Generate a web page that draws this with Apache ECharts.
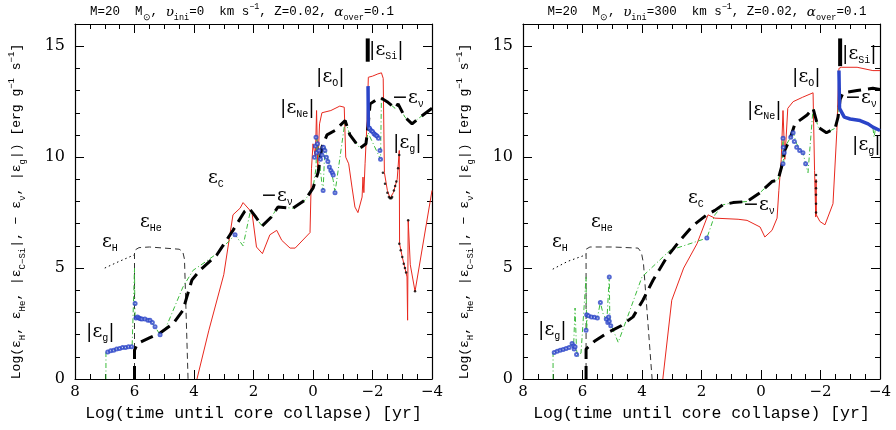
<!DOCTYPE html>
<html><head><meta charset="utf-8">
<script src="https://cdn.jsdelivr.net/npm/echarts@6/dist/echarts.min.js"></script>
<style>html,body{margin:0;padding:0;background:#fff}#c{width:896px;height:430px}</style>
</head><body><div id="c"></div>
<script>
// ---------- DATA (x = log time until collapse [yr], y = log energy rate) ----------
var xTicks = [8, 6, 4, 2, 0, -2, -4];
var yTicks = [0, 5, 10, 15];

// Left panel: v_ini = 0
var L_H = [[7.0,5.0],[6.6,5.25],[6.0,5.6]];
var L_He = [[6.0,0],[6.0,5.8],[5.85,5.92],[5.5,5.95],[4.5,5.85],[4.38,5.75],[4.32,5.4],[4.2,0]];
var L_nu = [[6.0,0],[6.0,1.3],[5.9,1.6],[5.5,1.85],[5.14,2.07],[4.7,2.5],[4.37,3.1],[4.24,3.7],[4.07,4.46],[3.8,4.9],[3.23,5.6],[2.69,6.7],[2.3,7.55],[2.15,7.7],[1.95,7.35],[1.71,6.9],[1.4,7.3],[1.18,7.75],[0.67,7.7],[0.27,8.06],[0.0,8.6],[-0.17,9.3],[-0.3,10.45],[-0.47,11.0],[-0.74,11.2],[-1.08,11.65],[-1.24,11.0],[-1.58,10.4],[-1.78,10.6],[-1.85,11.4],[-1.92,12.4],[-2.25,12.7],[-2.49,12.5],[-2.76,12.2],[-2.86,12.4],[-3.09,11.8],[-3.33,11.5],[-3.6,11.8],[-4.0,12.2]];
var L_CSi = [[3.9,0],[3.5,2.2],[3.0,4.7],[2.69,7.4],[2.45,7.7],[2.35,7.95],[2.05,7.5],[1.9,5.95],[1.7,5.65],[1.45,6.5],[1.22,6.7],[1.05,6.25],[0.77,5.9],[0.6,5.9],[0.1,6.6],[0.05,9.5],[0.0,10.6],[-0.08,10.0],[-0.12,12.1],[-0.16,9.5],[-0.22,11.5],[-0.3,12.0],[-0.6,12.1],[-0.9,12.3],[-1.05,12.25],[-1.1,10.0],[-1.2,9.7],[-1.31,8.65],[-1.41,7.75],[-1.51,7.5],[-1.65,8.2],[-1.68,9.1],[-1.71,8.4],[-1.75,9.7],[-1.82,11.7],[-1.86,13.6],[-2.0,13.65],[-2.18,13.75],[-2.3,13.8],[-2.36,13.55],[-2.4,9.3],[-2.5,8.5],[-2.59,8.15],[-2.7,8.4],[-2.83,9.0],[-2.9,10.3],[-2.91,6.1],[-3.0,5.5],[-3.09,5.0],[-3.16,4.6],[-3.18,2.65],[-3.2,7.15],[-3.27,5.15],[-3.32,5.2],[-3.43,3.95],[-4.0,8.5]];
var L_g = [[6.96,0],[6.96,1.2],[6.7,1.3],[6.4,1.4],[6.08,1.45],[6.02,1.5],[6.0,5.0],[5.99,3.4],[5.98,2.75],[5.7,2.7],[5.48,2.65],[5.31,2.35],[5.14,2.0],[4.95,2.3],[4.37,4.15],[4.03,4.9],[3.7,5.2],[3.23,5.65],[2.62,6.5],[2.35,6.0],[2.1,7.6],[1.95,7.3],[1.71,6.9],[1.4,7.3],[1.18,7.75],[0.67,7.7],[0.27,8.06],[0.0,8.6],[-0.1,9.5],[-0.13,10.9],[-0.2,10.0],[-0.3,8.8],[-0.34,8.5],[-0.4,10.45],[-0.5,9.9],[-0.6,9.4],[-0.68,8.95],[-0.74,8.4],[-1.08,11.65],[-1.24,11.0],[-1.58,10.4],[-1.78,10.6],[-1.85,11.1],[-2.27,9.9],[-2.3,12.65],[-2.49,12.5],[-2.76,12.2],[-2.86,12.4],[-3.09,11.8],[-3.33,11.5],[-3.6,11.8],[-4.0,12.2]];
var L_gPts = [[6.9,1.22],[6.8,1.27],[6.7,1.3],[6.6,1.35],[6.5,1.38],[6.4,1.42],[6.3,1.42],[6.2,1.45],[6.1,1.45],[5.98,3.4],[5.95,2.75],[5.9,2.8],[5.85,2.75],[5.8,2.72],[5.75,2.7],[5.65,2.7],[5.55,2.65],[5.48,2.65],[5.4,2.55],[5.31,2.35],[5.14,2.0],[2.62,6.5],[-0.05,10.0],[-0.08,10.5],[-0.1,10.9],[-0.12,10.2],[-0.15,10.6],[-0.2,10.3],[-0.25,9.9],[-0.3,10.1],[-0.35,10.45],[-0.4,10.3],[-0.45,10.0],[-0.5,9.8],[-0.55,9.55],[-0.6,9.4],[-0.65,9.3],[-0.68,9.2],[-0.34,8.5],[-0.74,8.4],[-1.9,11.3],[-1.95,11.2],[-2.0,11.15],[-2.05,11.05],[-2.1,11.0],[-2.15,10.95],[-2.2,10.85],[-2.25,10.3],[-2.27,9.9]];
var L_gSi = [[-1.85,13.2],[-1.86,11.4],[-1.95,11.2],[-2.2,10.9]];
var L_siPeak = [[-1.84,14.3],[-1.84,15.35]];
var L_dots = [[-2.35,9.3],[-2.42,8.8],[-2.5,8.4],[-2.55,8.2],[-2.59,8.15],[-2.63,8.15],[-2.66,8.2],[-2.72,8.5],[-2.76,8.7],[-2.8,8.9],[-2.86,9.5],[-2.9,10.1],[-2.9,6.1],[-2.95,5.8],[-3.0,5.5],[-3.05,5.2],[-3.09,5.0],[-3.13,4.8],[-3.2,7.15],[-3.43,3.95]];

// Right panel: v_ini = 300 km/s
var R_H = [[7.0,4.95],[6.5,5.3],[5.88,5.6]];
var R_He = [[5.88,0],[5.88,5.85],[5.75,5.95],[5.0,5.95],[4.13,5.9],[4.02,5.7],[3.95,5.2],[3.66,0]];
var R_nu = [[5.88,0],[5.88,1.35],[5.6,1.7],[5.18,2.07],[4.7,2.4],[4.3,2.8],[3.97,3.55],[3.63,4.45],[3.16,5.5],[2.72,6.25],[2.3,6.9],[1.82,7.4],[1.55,7.6],[1.28,7.85],[0.94,7.95],[0.47,8.0],[0.03,8.4],[-0.37,8.9],[-0.57,8.96],[-0.7,9.6],[-0.8,10.3],[-0.97,10.8],[-1.14,11.5],[-1.55,11.9],[-1.75,12.2],[-1.92,11.35],[-2.2,11.1],[-2.49,11.3],[-2.59,11.8],[-2.66,12.6],[-2.76,12.9],[-3.23,13.0],[-3.76,13.1],[-4.0,13.05]];
var R_CSi = [[3.3,0],[3.0,3.55],[2.6,5.0],[2.15,6.1],[1.78,7.4],[1.55,7.25],[0.77,7.2],[0.47,7.15],[0.03,6.85],[-0.13,6.4],[-0.37,6.7],[-0.54,7.25],[-0.6,8.5],[-0.68,9.9],[-0.74,12.1],[-0.8,9.9],[-0.85,11.0],[-0.9,12.2],[-1.08,12.5],[-1.4,12.7],[-1.75,12.9],[-1.8,9.4],[-1.84,7.3],[-1.85,9.0],[-1.86,7.4],[-1.98,7.1],[-2.15,6.95],[-2.42,7.9],[-2.55,11.2],[-2.62,14.0],[-2.7,14.05],[-3.23,14.05],[-3.76,13.9],[-4.0,13.9]];
var R_g = [[6.99,0],[6.99,1.17],[6.7,1.3],[6.5,1.4],[6.35,1.6],[6.3,1.45],[6.25,3.2],[6.2,1.3],[6.15,1.0],[6.05,1.17],[5.88,4.6],[5.86,2.2],[5.84,2.9],[5.6,2.8],[5.5,2.75],[5.4,3.45],[5.3,2.9],[5.18,2.65],[5.1,4.6],[5.08,2.57],[4.8,1.65],[4.5,2.75],[4.0,4.6],[3.06,5.8],[1.82,6.35],[1.55,7.4],[1.28,7.85],[0.94,7.95],[0.47,8.0],[0.03,8.4],[-0.37,8.9],[-0.57,8.96],[-0.7,9.5],[-0.74,10.85],[-0.76,9.7],[-0.8,10.45],[-1.0,10.9],[-1.08,11.1],[-1.2,10.6],[-1.41,10.2],[-1.5,9.7],[-1.58,9.3],[-1.75,12.2],[-1.92,11.35],[-2.2,11.1],[-2.49,11.3],[-2.59,11.8],[-2.62,13.9],[-2.64,12.2],[-2.8,11.8],[-3.33,11.65],[-3.76,11.35],[-3.8,10.9],[-3.85,11.3],[-4.0,11.2]];
var R_gPts = [[6.95,1.2],[6.85,1.25],[6.75,1.3],[6.65,1.33],[6.55,1.38],[6.45,1.42],[6.35,1.6],[6.3,1.5],[6.28,1.35],[6.25,1.45],[6.2,1.1],[5.88,2.2],[5.86,2.9],[5.8,2.85],[5.7,2.8],[5.6,2.78],[5.5,2.75],[5.4,3.45],[5.2,2.7],[5.15,2.55],[5.12,2.8],[5.1,4.6],[5.1,2.6],[5.05,2.4],[1.82,6.35],[-0.74,10.85],[-0.75,10.45],[-0.74,9.7],[-0.78,10.2],[-1.0,10.9],[-1.08,11.1],[-1.12,10.7],[-1.2,10.45],[-1.3,10.3],[-1.41,10.2],[-1.5,9.7]];
var R_gSi = [[-2.62,13.9],[-2.64,12.2],[-2.8,11.8],[-3.0,11.72],[-3.33,11.65],[-3.6,11.5],[-3.76,11.35],[-4.0,11.2]];
var R_siPeak = [[-2.66,14.1],[-2.66,15.35]];
var R_dots = [[-1.85,9.2],[-1.85,8.9],[-1.85,8.6],[-1.85,8.3],[-1.85,7.9],[-1.85,7.5]];

// ---------- STYLE ----------
var FONT = 'Liberation Mono';
var NUMFONT = 'DejaVu Serif';
var RED = '#e8281e', GREEN = '#3cbb3c', BLUE = '#2a44c8';
function st(o) { return Object.assign({color: '#000', fontFamily: FONT}, o); }
var rich = {
  n: st({fontSize: 13, lineHeight: 20}),
  x: st({fontSize: 16.5, lineHeight: 22}),
  b: st({fontFamily: NUMFONT, fontSize: 19, lineHeight: 22}),
  sub: st({fontSize: 10, lineHeight: 9, verticalAlign: 'bottom'}),
  ysub: st({fontSize: 9, lineHeight: 8, verticalAlign: 'bottom'}),
  sup: st({fontSize: 9, lineHeight: 8, verticalAlign: 'top'}),
  t: st({fontSize: 12.5, lineHeight: 20}),
  ts: st({fontSize: 8.5, lineHeight: 9, verticalAlign: 'bottom'}),
  tp: st({fontSize: 8.5, lineHeight: 9, verticalAlign: 'top'}),
  ti: st({fontFamily: NUMFONT, fontSize: 13.5, lineHeight: 20, fontStyle: 'italic'})
};
var yName = '{n|Log(ε}{ysub|H}{n|, ε}{ysub|He}{n|, |ε}{ysub|C−Si}{n||, − ε}{ysub|ν}{n|, |ε}{ysub|g}{n||) [erg g}{sup|−1}{n| s}{sup|−1}{n|]}';
var xName = '{x|Log(time until core collapse) [yr]}';
function title(v) {
  return '{t|M=20  M}{ts|⊙}{t|, }{ti|υ}{ts|ini}{t|=' + v + '  km s}{tp|−1}{t|, Z=0.02, }{ti|α}{ts|over}{t|=0.1}';
}

function xAx(grid, top) {
  return {
    type: 'value', gridIndex: grid, min: -4, max: 8, interval: 2, inverse: true,
    position: top ? 'top' : 'bottom',
    name: top ? '' : xName, nameLocation: 'middle', nameGap: 24,
    nameTextStyle: {rich: rich},
    axisLine: {show: true, onZero: false, lineStyle: {color: '#000', width: 1.2}},
    axisTick: {show: true, inside: true, length: 9, lineStyle: {color: '#000', width: 1}},
    minorTick: {show: true, splitNumber: 4, length: 5, lineStyle: {color: '#000', width: 1}},
    axisLabel: {show: !top, margin: 6, color: '#000', fontFamily: NUMFONT, fontSize: 15,
      formatter: function (v) { return xTicks.indexOf(v) >= 0 ? String(v).replace('-', '−') : ''; }},
    splitLine: {show: false}
  };
}
function yAx(grid, right) {
  return {
    type: 'value', gridIndex: grid, min: 0, max: 16, interval: 5,
    position: right ? 'right' : 'left',
    name: right ? '' : yName, nameLocation: 'middle', nameGap: 48,
    nameTextStyle: {rich: rich, padding: [0, 20, 0, 0]},
    axisLine: {show: true, onZero: false, lineStyle: {color: '#000', width: 1.2}},
    axisTick: {show: true, inside: true, length: 9, lineStyle: {color: '#000', width: 1}},
    minorTick: {show: true, splitNumber: 5, length: 5, lineStyle: {color: '#000', width: 1}},
    axisLabel: {show: !right, margin: 10, color: '#000', fontFamily: NUMFONT, fontSize: 16,
      formatter: function (v) { return yTicks.indexOf(v) >= 0 ? String(v) : ''; }},
    splitLine: {show: false}
  };
}

function panelSeries(ax, H, He, nu, red, g, gPts, gSi, siPeak, dots) {
  var base = {xAxisIndex: ax, yAxisIndex: ax, showSymbol: false, symbol: 'none', silent: true, animation: false};
  function ln(data, color, width, type) {
    return Object.assign({type: 'line', data: data, lineStyle: {color: color, width: width, type: type}, z: 2}, base);
  }
  return [
    ln(H, '#000', 1, [1.5, 3]),
    ln(He, '#333', 1, [6, 4]),
    ln(red, RED, 1, 'solid'),
    ln(g, GREEN, 1, [5, 2.5, 1, 2.5]),
    Object.assign({type: 'line', data: gSi, lineStyle: {color: BLUE, width: 3.5}, z: 4}, base),
    {type: 'scatter', xAxisIndex: ax, yAxisIndex: ax, data: gPts, symbol: 'emptyCircle', symbolSize: 3,
      itemStyle: {color: BLUE, borderColor: BLUE, borderWidth: 1}, silent: true, animation: false, z: 4},
    Object.assign({type: 'line', data: nu, lineStyle: {color: '#000', width: 3, type: [13, 7]}, z: 3}, base),
    Object.assign({type: 'line', data: siPeak, lineStyle: {color: '#000', width: 4}, z: 5}, base),
    {type: 'scatter', xAxisIndex: ax, yAxisIndex: ax, data: dots, symbol: 'circle', symbolSize: 2.5,
      itemStyle: {color: '#000'}, silent: true, animation: false, z: 5}
  ];
}

function ann(x, y, text) {
  return {type: 'text', x: x, y: y, z: 100, style: {text: text, rich: rich, verticalAlign: 'middle', align: 'left'}};
}
var eps = function (s) { return '{b|ε}{sub|' + s + '}'; };
var abs = function (s) { return '{b||ε}{sub|' + s + '}{b||}'; };
var mnu = '{b|−ε}{sub|ν}';

var option = {
  backgroundColor: '#fff',
  animation: false,
  grid: [
    {left: 75, right: 464, top: 24, bottom: 51},
    {left: 523, right: 16, top: 24, bottom: 51}
  ],
  xAxis: [xAx(0, false), xAx(0, true), xAx(1, false), xAx(1, true)],
  yAxis: [yAx(0, false), yAx(0, true), yAx(1, false), yAx(1, true)],
  series: [].concat(
    panelSeries(0, L_H, L_He, L_nu, L_CSi, L_g, L_gPts, L_gSi, L_siPeak, L_dots),
    panelSeries(2, R_H, R_He, R_nu, R_CSi, R_g, R_gPts, R_gSi, R_siPeak, R_dots)
  ),
  graphic: [
    {type: 'text', x: 242, y: 12, style: {text: title('0'), rich: rich, align: 'center', verticalAlign: 'middle'}},
    {type: 'text', x: 707, y: 12, style: {text: title('300'), rich: rich, align: 'center', verticalAlign: 'middle'}},
    ann(102, 242, eps('H')), ann(140, 222, eps('He')), ann(86, 332, abs('g')),
    ann(208, 178, eps('C')), ann(261, 196, mnu), ann(280, 108, abs('Ne')),
    ann(316, 77, abs('O')), ann(369, 50, abs('Si')), ann(392, 98, mnu), ann(393, 143, abs('g')),
    ann(552, 242, eps('H')), ann(591, 222, eps('He')), ann(538, 330, abs('g')),
    ann(688, 198, eps('C')), ann(743, 205, mnu), ann(747, 110, abs('Ne')),
    ann(792, 77, abs('O')), ann(842, 54, abs('Si')), ann(845, 98, mnu), ann(852, 145, abs('g'))
  ]
};
var chart = echarts.init(document.getElementById('c'), null, {renderer: 'canvas'});
chart.setOption(option);
</script></body></html>
